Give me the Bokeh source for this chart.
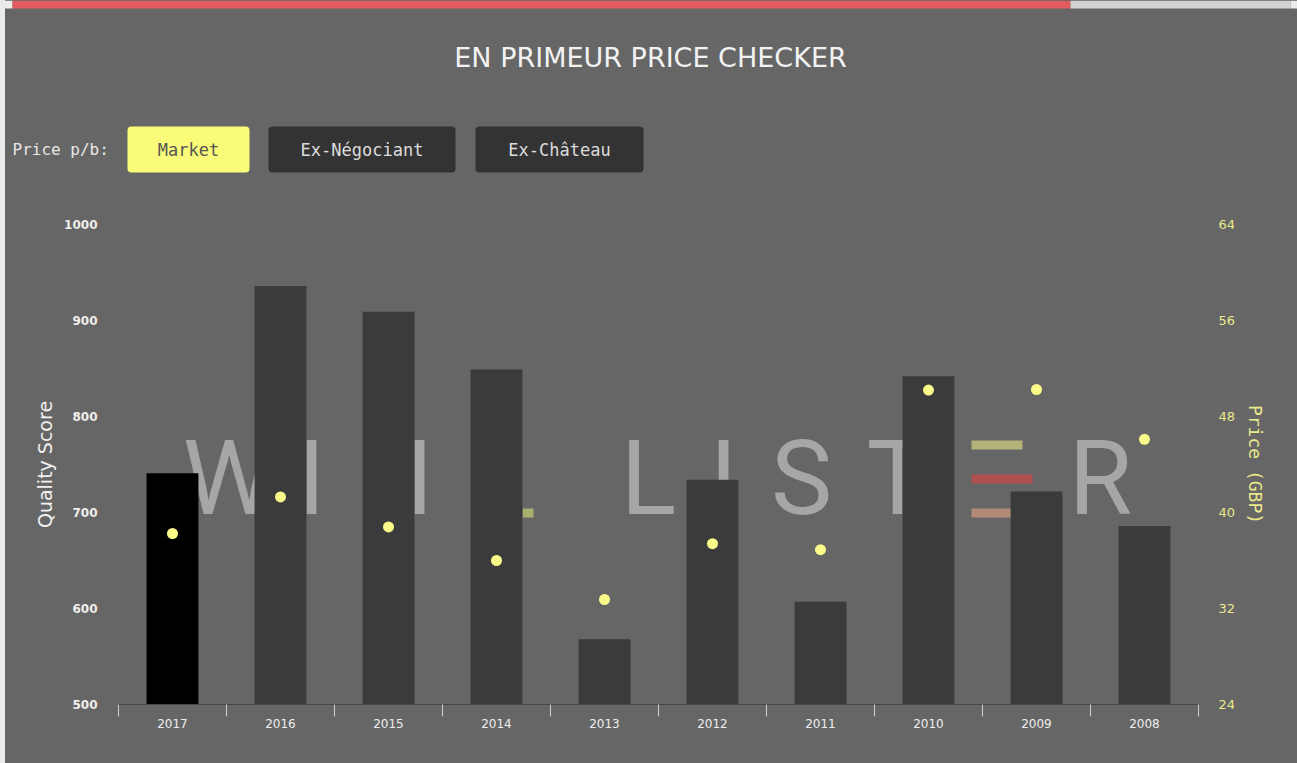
from bokeh.plotting import figure
from bokeh.models import Range1d, LinearAxis, FixedTicker, ColumnDataSource, Quad
from bokeh.layouts import column
from bokeh.embed import file_html
from bokeh.resources import INLINE
from bokeh.core.properties import value

# ---------------- data ----------------
years = ["2017", "2016", "2015", "2014", "2013", "2012", "2011", "2010", "2009", "2008"]
quality_score = [741, 936, 909, 849, 568, 734, 607, 842, 722, 686]
market_price = [38.25, 41.3, 38.8, 36.0, 32.75, 37.4, 36.9, 50.2, 50.25, 46.1]
highlight_year = "2017"
score_ticks = [500, 600, 700, 800, 900, 1000]
price_ticks = [24, 32, 40, 48, 56, 64]
price_options = ["Market", "Ex-Négociant", "Ex-Château"]
selected_option = "Market"
title_text = "EN PRIMEUR PRICE CHECKER"
price_label = "Price p/b:"

# ---------------- style ----------------
W, H = 1297, 763
HH = 208                                 # header height
FL, FR, FT, FB = 118, 1198, 224, 704     # main frame edges in page pixels
BG = "#666666"
PAGE_STYLE = {"background": "linear-gradient(to right, #ebebeb 0px, #ebebeb 5px, #666666 5px)"}
BAR = "#3b3b3b"
HI_BAR = "#000000"
DOT = "#fafa8a"
YELLOW_TXT = "#e9e98c"
LIGHT_TXT = "#eeeeee"


def style_fig(f):
    f.background_fill_color = None
    f.border_fill_color = None
    f.outline_line_color = None
    f.grid.visible = False
    f.styles = PAGE_STYLE
    if "frame_align" in f.properties():
        f.frame_align = False


# ---------------- header (page-pixel coordinates) ----------------
header = figure(width=W, height=HH, x_range=Range1d(0, W), y_range=Range1d(HH, 0),
                output_backend="svg", toolbar_location=None,
                x_axis_location=None, y_axis_location=None,
                min_border=0, min_border_left=0, min_border_right=0,
                min_border_top=0, min_border_bottom=0)
style_fig(header)

radius_kw = {"border_radius": 4} if "border_radius" in Quad.properties() else {}

header.quad(left=[0, 12, 1070, 1290], right=[12, 1070, 1290, W], top=[0] * 4, bottom=[8] * 4,
            color=["#ebebeb", "#e35b5f", "#d3d3d3", "#ebebeb"], line_color=None)

header.text(x=[650], y=[57], text=[title_text], text_align="center",
            text_baseline="middle", text_font=value("DejaVu Sans"),
            text_font_size="27px", text_color="#f2f2f2")
header.text(x=[12], y=[149], text=[price_label], text_align="left",
            text_baseline="middle", text_font=value("DejaVu Sans Mono"),
            text_font_size="16px", text_color="#e6e6e6")

btn_left = [127, 268, 475]
btn_right = [249, 455, 643]
bsrc = ColumnDataSource(dict(
    left=btn_left, right=btn_right, top=[126] * 3, bottom=[172] * 3,
    xc=[(a + b) / 2 for a, b in zip(btn_left, btn_right)], yc=[149] * 3,
    label=price_options,
    fill=["#fbfb7a" if o == selected_option else "#333333" for o in price_options],
    tcol=["#555555" if o == selected_option else "#dddddd" for o in price_options]))
header.quad(left="left", right="right", top="top", bottom="bottom",
            fill_color="fill", line_color=None, source=bsrc, **radius_kw)
header.text(x="xc", y="yc", text="label", text_color="tcol", source=bsrc,
            text_align="center", text_baseline="middle",
            text_font=value("DejaVu Sans Mono"), text_font_size="17px")

# ---------------- main chart ----------------
n = len(years)
Y0, Y1 = score_ticks[0], score_ticks[-1]
p = figure(width=W, height=H - HH, x_range=Range1d(0, n), y_range=Range1d(Y0, Y1),
           output_backend="svg", toolbar_location=None,
           x_axis_location=None, y_axis_location=None,
           min_border_left=FL, min_border_right=W - FR,
           min_border_top=FT - HH, min_border_bottom=H - FB)
p.extra_y_ranges = {"price": Range1d(price_ticks[0], price_ticks[-1])}
style_fig(p)


# watermark decoration: page pixels -> data coords
def px_x(px):
    return (px - FL) * n / (FR - FL)


def px_y(py):
    return Y0 + (FB - py) * (Y1 - Y0) / (FB - FT)


wm_letters = ["W", "I", "I", "L", "I", "S", "T", "R"]
wm_px = [228, 311, 419, 648, 723, 801, 897, 1100]
p.text(x=[px_x(v) for v in wm_px], y=[px_y(478)] * len(wm_letters), text=wm_letters,
       text_align="center", text_baseline="middle",
       text_font=value("Roboto"), text_font_size="103px", text_color="#a6a6a6")
p.quad(left=[px_x(522)], right=[px_x(533)], top=[px_y(508)], bottom=[px_y(517)],
       color="#a9ad6e", line_color=None)
p.quad(left=[px_x(971)] * 3, right=[px_x(1022), px_x(1032), px_x(1020)],
       top=[px_y(440), px_y(474), px_y(508)], bottom=[px_y(449), px_y(483), px_y(517)],
       color=["#b3b27a", "#b0504e", "#b38a75"], line_color=None)

# data marks
xs = [i + 0.5 for i in range(n)]
src = ColumnDataSource(dict(
    x=xs, year=years, score=quality_score, price=market_price,
    color=[HI_BAR if y == highlight_year else BAR for y in years]))
p.vbar(x="x", top="score", bottom=Y0, width=0.48, fill_color="color",
       line_color=None, source=src)
p.scatter(x="x", y="price", y_range_name="price", size=11, fill_color=DOT,
          line_color=None, source=src)

# left axis
la = LinearAxis(ticker=FixedTicker(ticks=score_ticks), axis_label="Quality Score")
la.axis_line_color = None
la.major_tick_line_color = None
la.minor_tick_line_color = None
la.major_tick_out = 0
la.major_tick_in = 0
la.major_label_standoff = 21
la.major_label_text_color = LIGHT_TXT
la.major_label_text_font = "DejaVu Sans"
la.major_label_text_font_size = "12px"
la.major_label_text_font_style = "bold"
la.axis_label_standoff = 5
la.axis_label_text_color = "#f0f0f0"
la.axis_label_text_font = "DejaVu Sans"
la.axis_label_text_font_size = "19px"
la.axis_label_text_font_style = "normal"
p.add_layout(la, "left")

# right axis
ra = LinearAxis(y_range_name="price", ticker=FixedTicker(ticks=price_ticks),
                axis_label="Price (GBP)")
ra.axis_line_color = None
ra.major_tick_line_color = None
ra.minor_tick_line_color = None
ra.major_tick_out = 0
ra.major_tick_in = 0
ra.major_label_standoff = 20
ra.major_label_text_color = YELLOW_TXT
ra.major_label_text_font = "DejaVu Sans"
ra.major_label_text_font_size = "13px"
ra.axis_label_standoff = 7
ra.axis_label_text_color = YELLOW_TXT
ra.axis_label_text_font = "DejaVu Sans Mono"
ra.axis_label_text_font_size = "18px"
ra.axis_label_text_font_style = "normal"
p.add_layout(ra, "right")

# bottom axis: labels at category centres, ticks at category boundaries
ba = LinearAxis(ticker=FixedTicker(ticks=xs, minor_ticks=list(range(n + 1))),
                major_label_overrides={x: y for x, y in zip(xs, years)})
ba.axis_line_color = "#484848"
ba.axis_line_width = 1
ba.major_tick_line_color = None
ba.major_tick_out = 0
ba.major_tick_in = 0
ba.minor_tick_line_color = "#d0d0d0"
ba.minor_tick_out = 12
ba.minor_tick_in = 0
ba.major_label_standoff = 2
ba.major_label_text_color = LIGHT_TXT
ba.major_label_text_font = "DejaVu Sans"
ba.major_label_text_font_size = "12px"
p.add_layout(ba, "below")

layout = column(header, p, spacing=0, styles=PAGE_STYLE)
open("out.html", "w").write(file_html(layout, INLINE))
